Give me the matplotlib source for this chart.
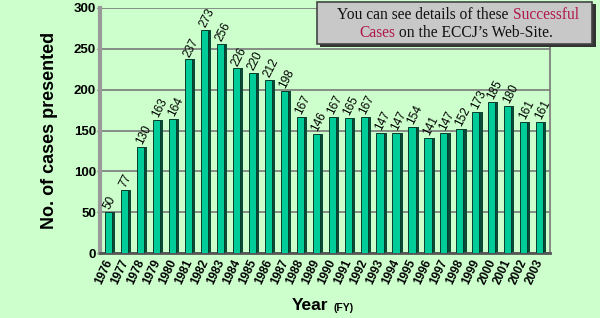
import matplotlib
matplotlib.use("Agg")
import matplotlib.pyplot as plt
from matplotlib.patches import Rectangle
import numpy as np

years = [str(y) for y in range(1976, 2004)]
cases = [50, 77, 130, 163, 164, 237, 273, 256, 226, 220, 212, 198, 167, 146,
         167, 165, 167, 147, 147, 154, 141, 147, 152, 173, 185, 180, 161, 161]
yticks = [0, 50, 100, 150, 200, 250, 300]

bg = "#CCFFCC"
fig = plt.figure(figsize=(6.0, 3.18), dpi=100, facecolor=bg)
ax = fig.add_axes([100/600, 1-253/318, 450/600, 245/318])
ax.set_facecolor(bg)

x = np.arange(len(years))
# depth side (3D look)
ax.bar(x + 0.12, cases, width=0.5, color="#0B4A36", zorder=2)
ax.bar(x - 0.05, cases, width=0.45, color="#00CC99", edgecolor="#0B3D2C",
       linewidth=0.7, zorder=3)

for xi, v in zip(x, cases):
    ax.text(xi - 0.15, v + 4, str(v), rotation=63, ha="left", va="center",
            rotation_mode="anchor", fontsize=8.5, family="Liberation Sans",
            zorder=4)

ax.set_xlim(-0.6, len(years) - 0.4)
ax.set_ylim(0, 300)
ax.set_yticks(yticks)
ax.set_yticklabels([str(t) for t in yticks], fontsize=9.5, fontweight="bold",
                   family="Liberation Sans")
ax.set_xticks(x)
ax.set_xticklabels(years, rotation=65, ha="right", va="center",
                   rotation_mode="anchor", fontsize=8.5, fontweight="bold",
                   family="Liberation Sans")
ax.tick_params(axis="x", length=0, pad=5)
ax.tick_params(axis="y", length=2.5, width=1, color="#555555", pad=0.5)

ax.yaxis.grid(True, color="#7A7A7A", linewidth=1.2, zorder=1)
ax.set_axisbelow(True)
ax.spines["top"].set_visible(False)
ax.spines["left"].set_color("#999999")
ax.spines["left"].set_linewidth(3)
ax.spines["right"].set_color("#777777")
ax.spines["right"].set_linewidth(1.2)
ax.spines["bottom"].set_color("#555555")
ax.spines["bottom"].set_linewidth(2)

ax.set_ylabel("No. of cases presented", fontsize=13, fontweight="bold",
              family="Liberation Sans")
ax.yaxis.set_label_coords((58 - 100) / 450, 0.5)

fig.text(292/600, 1-306/318, "Year", fontsize=12.5, fontweight="bold",
         family="Liberation Sans", ha="left", va="center")
fig.text(334/600, 1-308/318, "(FY)", fontsize=7.5, fontweight="bold",
         family="Liberation Sans", ha="left", va="center")

# info box with shadow
fig.patches.append(Rectangle((320/600, 1-47/318), 276/600, 43/318,
                             transform=fig.transFigure, facecolor="#333333",
                             edgecolor="none", zorder=5))
fig.patches.append(Rectangle((317/600, 1-44/318), 275/600, 42/318,
                             transform=fig.transFigure, facecolor="#C8C8C8",
                             edgecolor="#444444", linewidth=1.2, zorder=6))
fs = 11.2
fam = "Liberation Serif"
r = fig.canvas.get_renderer()


def line(parts, y, cx):
    texts = []
    for s, c in parts:
        texts.append(fig.text(0, y, s, fontsize=fs, family=fam, color=c,
                              ha="left", va="center", zorder=7))
    widths = [t.get_window_extent(renderer=r).width for t in texts]
    xpos = cx - sum(widths) / 2
    for t, w in zip(texts, widths):
        t.set_x(xpos / 600)
        xpos += w


line([("You can see details of these ", "#111111"), ("Successful", "#B0174A")],
     1 - 15/318, 458)
line([("Cases", "#B0174A"), (" on the ECCJ\u2019s Web-Site.", "#111111")],
     1 - 33/318, 456)

fig.savefig("out.png", dpi=100, facecolor=bg)
